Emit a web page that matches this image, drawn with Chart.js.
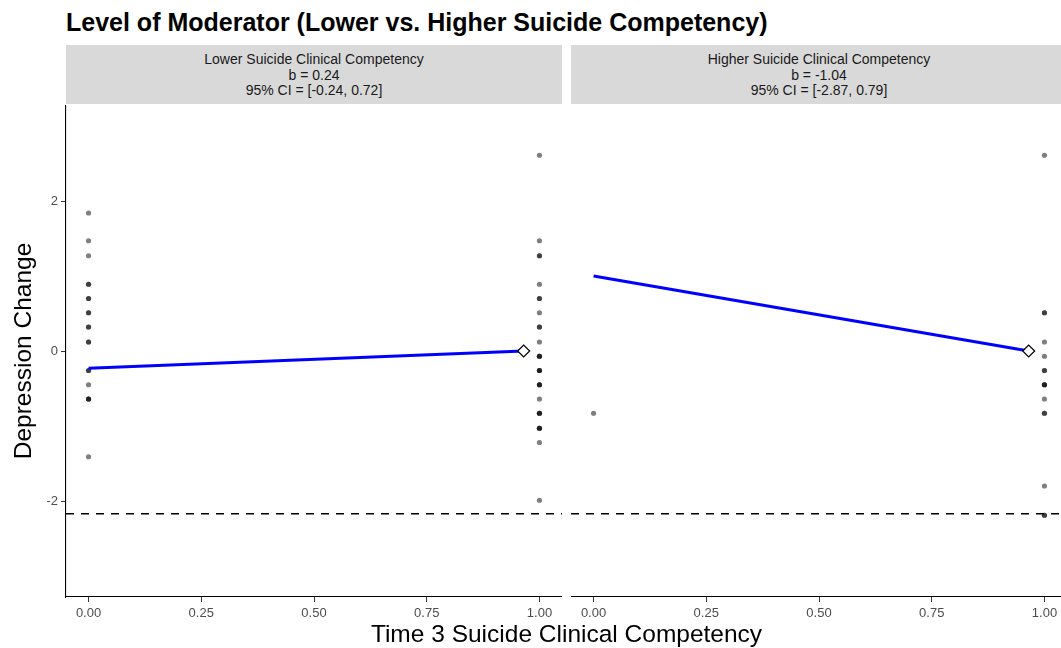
<!DOCTYPE html>
<html>
<head>
<meta charset="utf-8">
<script src="https://cdn.jsdelivr.net/npm/chart.js@4.4.1/dist/chart.umd.min.js"></script>
<style>
  html, body { margin: 0; padding: 0; background: #fff; overflow: hidden; }
  body { width: 1061px; height: 648px; position: relative; font-family: "Liberation Sans", Arial, sans-serif; }
  .title { position: absolute; left: 66px; top: 7px; font-size: 25px; line-height: 30px; font-weight: bold; color: #000; white-space: nowrap; }
  .strip { position: absolute; top: 45px; height: 59px; background: #d9d9d9; color: #1a1a1a; box-sizing: border-box; padding-top: 2px;
           font-size: 14px; line-height: 15.5px; text-align: center; display: flex; flex-direction: column; justify-content: center; }
  .xtitle { position: absolute; left: 66px; width: 1001px; top: 620px; font-size: 24.5px; line-height: 28px; text-align: center; color: #000; }
  canvas { position: absolute; }
</style>
</head>
<body>
<div class="title">Level of Moderator (Lower vs. Higher Suicide Competency)</div>
<div class="strip" style="left:66px;width:496px;"><div>Lower Suicide Clinical Competency</div><div>b = 0.24</div><div>95% CI = [-0.24, 0.72]</div></div>
<div class="strip" style="left:571px;width:496px;"><div>Higher Suicide Clinical Competency</div><div>b = -1.04</div><div>95% CI = [-2.87, 0.79]</div></div>
<div style="position:absolute;left:0;top:105px;width:562px;height:525px;"><canvas id="left"></canvas></div>
<div style="position:absolute;left:571px;top:105px;width:496px;height:525px;"><canvas id="right"></canvas></div>
<div class="xtitle">Time 3 Suicide Clinical Competency</div>

<script>
// observed depression change, one entry per participant (repeats = overlapping points)
const lowerAt0 = [1.84, 1.47, 1.27, 0.89, 0.89, 0.70, 0.70, 0.51, 0.51, 0.32, 0.32, 0.12, 0.12,
                  -0.26, -0.26, -0.45, -0.64, -0.64, -0.64, -1.41];
const lowerAt1 = [2.61, 1.47, 1.27, 1.27, 0.89, 0.70, 0.70, 0.51, 0.32, 0.32, 0.12,
                  -0.07, -0.07, -0.07, -0.26, -0.26, -0.26, -0.45, -0.45, -0.45, -0.64,
                  -0.83, -0.83, -0.83, -1.03, -1.03, -1.03, -1.22, -1.99];
const higherAt0 = [-0.83];
const higherAt1 = [2.61, 0.51, 0.51, 0.12, -0.07, -0.26, -0.26, -0.45, -0.45, -0.45, -0.64,
                   -0.83, -0.83, -1.80, -2.19, -2.19];

// fitted lines (start at x = 0, end at the diamond)
const fitX = [0, 0.965];
const lowerFitY = [-0.23, 0.0];
const higherFitY = [1.0, 0.0];

const refLineY = -2.17;

const xTicks = [0, 0.25, 0.5, 0.75, 1];
const yTicks = [-2, 0, 2];
const xRange = [-0.05, 1.05];
const yRange = [-3.28, 3.28];

function buildDatasets(at0, at1, fitY) {
  const pts = at0.map(v => ({ x: 0, y: v })).concat(at1.map(v => ({ x: 1, y: v })));
  const n = fitX.length - 1;
  return [
    {
      label: 'end',
      data: [{ x: fitX[n], y: fitY[n] }],
      pointStyle: 'rectRot', pointRadius: 6,
      backgroundColor: '#fff', borderColor: '#000', borderWidth: 1.2
    },
    {
      label: 'fit',
      data: fitX.map((x, i) => ({ x: x, y: fitY[i] })),
      showLine: true, borderColor: '#0000ff', borderWidth: 3.2, pointRadius: 0
    },
    {
      label: 'ref',
      data: xRange.map(x => ({ x: x, y: refLineY })),
      showLine: true, borderColor: '#000', borderWidth: 1.7, borderDash: [8, 7], pointRadius: 0
    },
    {
      label: 'obs',
      data: pts,
      pointRadius: 2.6, borderWidth: 0,
      backgroundColor: 'rgba(0,0,0,0.5)'
    }
  ];
}

function makeChart(id, datasets, showY) {
  return new Chart(document.getElementById(id), {
    type: 'scatter',
    data: { datasets: datasets },
    options: {
      responsive: true,
      maintainAspectRatio: false,
      animation: false,
      events: [],
      clip: false,
      layout: { padding: 0, autoPadding: false },
      plugins: { legend: { display: false }, tooltip: { enabled: false } },
      scales: {
        x: {
          type: 'linear', min: xRange[0], max: xRange[1],
          afterBuildTicks: s => { s.ticks = xTicks.map(v => ({ value: v })); },
          afterFit: s => { s.height = 33; s.paddingLeft = 0; s.paddingRight = 0; },
          grid: { drawOnChartArea: false, tickLength: 5, color: '#333', lineWidth: 1 },
          border: { display: true, color: '#000', width: 1.1 },
          ticks: { color: '#4d4d4d', font: { family: 'Liberation Sans', size: 13 }, padding: 4,
                   callback: v => Number(v).toFixed(2), maxRotation: 0 }
        },
        y: {
          type: 'linear', min: yRange[0], max: yRange[1], display: showY,
          afterBuildTicks: s => { s.ticks = yTicks.map(v => ({ value: v })); },
          afterFit: s => { s.width = showY ? 66 : 0; s.paddingTop = 0; s.paddingBottom = 0; },
          grid: { drawOnChartArea: false, tickLength: 5, color: '#333', lineWidth: 1 },
          border: { display: true, color: '#000', width: 1.1 },
          ticks: { color: '#4d4d4d', font: { family: 'Liberation Sans', size: 13 }, padding: 3 },
          title: { display: true, text: 'Depression Change', color: '#000',
                   font: { family: 'Liberation Sans', size: 24.5 }, padding: { top: 10, bottom: 0 } }
        }
      }
    }
  });
}

makeChart('left', buildDatasets(lowerAt0, lowerAt1, lowerFitY), true);
makeChart('right', buildDatasets(higherAt0, higherAt1, higherFitY), false);
</script>
</body>
</html>
